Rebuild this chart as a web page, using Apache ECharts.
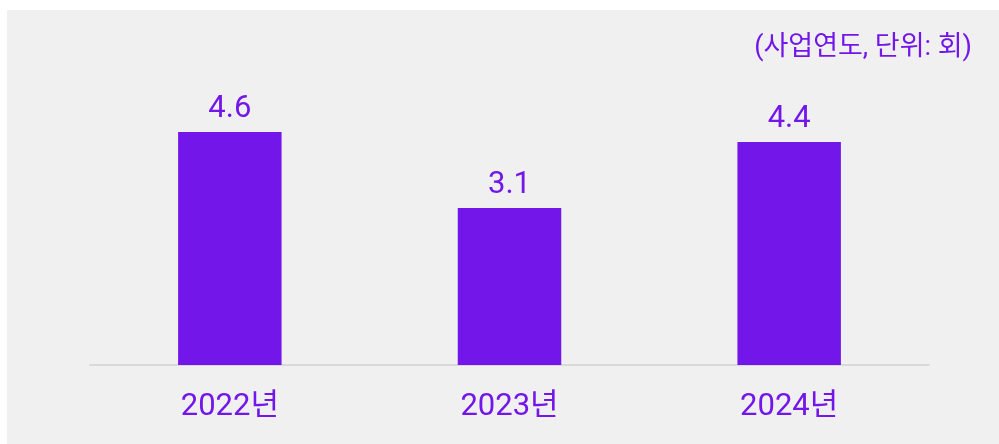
<!DOCTYPE html>
<html>
<head>
<meta charset="utf-8">
<script src="https://cdn.jsdelivr.net/npm/echarts@6/dist/echarts.min.js"></script>
<style>
	html, body { margin: 0; padding: 0; background: #ffffff; }
	#main { position: absolute; left: 7px; top: 10px; width: 992px; height: 434px; background: #f0f0f0; }
</style>
</head>
<body>
<div id="main"></div>
<script>
// 사업연도별 횟수
const years = ['2022년', '2023년', '2024년'];
const counts = [4.6, 3.1, 4.4];
const unitText = '(사업연도, 단위: 회)';

const purple = '#7216e9';
const font = 'Roboto, "Noto Sans CJK KR", sans-serif';

const chart = echarts.init(document.getElementById('main'), null, { renderer: 'canvas' });

chart.setOption({
	animation: false,
	backgroundColor: '#f0f0f0',
	title: {
		text: unitText,
		right: 22,
		top: 20,
		textStyle: {
			color: purple,
			fontSize: 27,
			fontWeight: 'normal',
			fontFamily: font
		}
	},
	grid: {
		left: 83,
		right: 70,
		top: 51,
		bottom: 79,
		containLabel: false
	},
	xAxis: {
		type: 'category',
		data: years,
		axisLine: {
			lineStyle: { color: '#d9d9d9', width: 2 }
		},
		axisTick: { show: false },
		axisLabel: {
			color: purple,
			fontSize: 31,
			fontFamily: font,
			margin: 27
		}
	},
	yAxis: {
		type: 'value',
		min: 0,
		max: 6,
		show: false,
		splitLine: { show: false }
	},
	series: [
		{
			type: 'bar',
			data: counts,
			barWidth: '37%',
			itemStyle: { color: purple },
			label: {
				show: true,
				position: 'top',
				distance: 7,
				color: purple,
				fontSize: 31,
				fontFamily: font
			}
		}
	]
});
</script>
</body>
</html>
